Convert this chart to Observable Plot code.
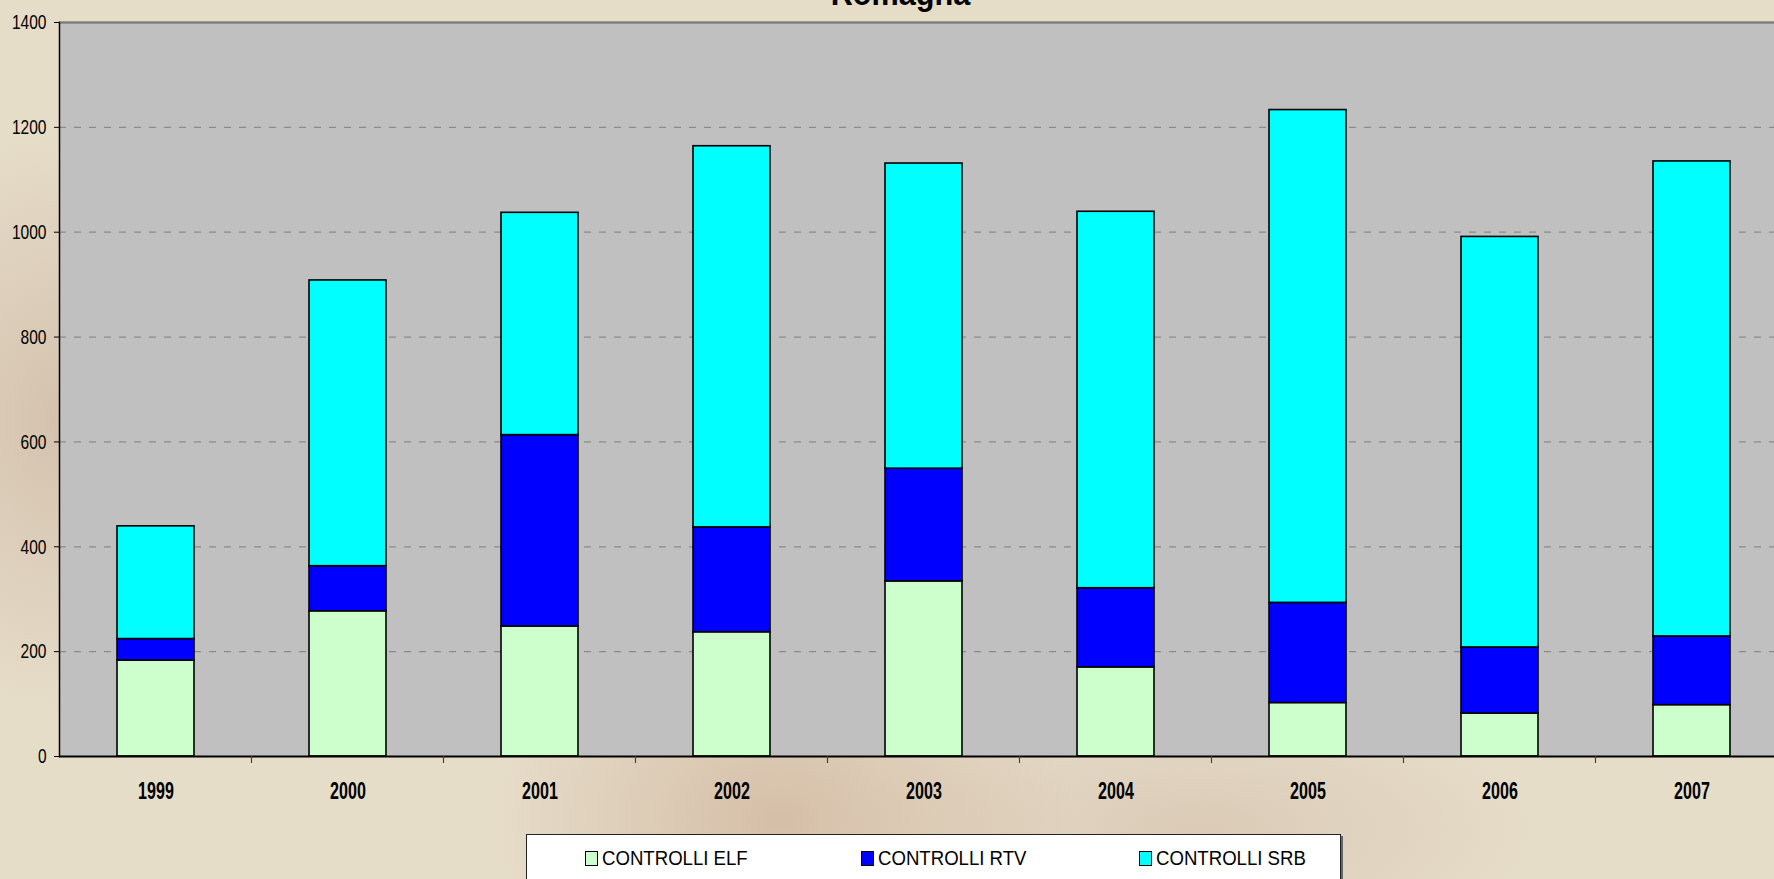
<!DOCTYPE html>
<html>
<head>
<meta charset="utf-8">
<script src="https://cdn.jsdelivr.net/npm/d3@7"></script>
<script src="https://cdn.jsdelivr.net/npm/@observablehq/plot@0.6"></script>
<style>
  html, body { margin: 0; padding: 0; width: 1774px; height: 879px; overflow: hidden; }
  body {
    position: relative;
    background:
      radial-gradient(ellipse 420px 300px at 780px 820px, rgba(200,165,140,0.55), rgba(200,165,140,0) 70%),
      radial-gradient(ellipse 300px 420px at 60px 420px, rgba(190,160,140,0.45), rgba(190,160,140,0) 70%),
      radial-gradient(ellipse 500px 200px at 1200px 830px, rgba(205,180,160,0.45), rgba(205,180,160,0) 70%),
      #e6ddc9;
    font-family: "Liberation Sans", Arial, sans-serif;
  }
  #title {
    position: absolute; left: 0; width: 1800px; top: -26px; text-align: center;
    font-weight: bold; font-size: 34px; color: #000;
  }
  #title span { display: inline-block; transform: scaleX(0.9); }
  #chart { position: absolute; left: 0; top: 0; width: 1800px; }
  #chart svg { max-width: none !important; }
  #legend {
    position: absolute; left: 526px; top: 834px; width: 813px; height: 60px;
    background: #fff; border: 1px solid #222; box-shadow: 2px 2px 0 #666;
  }
  .item { position: absolute; top: 12px; font-size: 20px; color: #000; white-space: nowrap; line-height: 22px; }
  .sw { display: inline-block; width: 11px; height: 13px; border: 1px solid #000; margin-right: 4px; vertical-align: -1px; }
  .lbl { display: inline-block; transform: scaleX(0.93); transform-origin: left center; }
</style>
</head>
<body>
<div id="title"><span>Romagna</span></div>
<div id="chart"></div>
<div id="legend"></div>
<script>
const years = ["1999","2000","2001","2002","2003","2004","2005","2006","2007"];
const seriesNames = ["CONTROLLI ELF","CONTROLLI RTV","CONTROLLI SRB"];
const seriesColors = ["#CCFFCC","#0000FF","#00FFFF"];
const elf = [183, 277, 248, 237, 334, 170, 102, 82, 98];
const rtv = [41, 86, 365, 200, 215, 151, 191, 126, 131];
const srb = [215, 545, 424, 727, 582, 718, 940, 783, 906];
const yTicks = [0, 200, 400, 600, 800, 1000, 1200, 1400];
const gridTicks = [200, 400, 600, 800, 1000, 1200];

const values = [elf, rtv, srb];
const data = years.flatMap((y, i) => seriesNames.map((s, k) => ({year: y, series: s, value: values[k][i]})));

const boundaryTicks = (index, scales, vals, dims, context) => {
  const x = scales.x, y = scales.y;
  const step = x(years[1]) - x(years[0]);
  const bw = x.bandwidth ? x.bandwidth() : 0;
  const g = d3.create("svg:g");
  const y0 = y(0);
  years.forEach(yr => {
    const bx = x(yr) + bw / 2 + step / 2;
    g.append("line").attr("x1", bx).attr("x2", bx).attr("y1", y0).attr("y2", y0 + 7)
      .attr("stroke", "#444").attr("stroke-width", 1.2);
  });
  return g.node();
};

const chart = Plot.plot({
  width: 1788,
  height: 820,
  marginTop: 22,
  marginLeft: 59,
  marginRight: 0,
  marginBottom: 64,
  style: {background: "transparent", fontFamily: "\"Liberation Sans\", Arial, sans-serif", color: "#000", maxWidth: "none"},
  x: {domain: years, paddingInner: 0.6, paddingOuter: 0.3, align: 0.5},
  y: {domain: [0, 1400]},
  color: {domain: seriesNames, range: seriesColors},
  marks: [
    Plot.frame({fill: "#C0C0C0", stroke: null}),
    Plot.gridY(gridTicks, {stroke: "#8a8a8a", strokeOpacity: 1, strokeWidth: 1.2, strokeDasharray: "7,8"}),
    Plot.ruleY([1400], {stroke: "#808080", strokeWidth: 2.5}),
    Plot.barY(data, {x: "year", y: "value", fill: "series", stroke: "#000", strokeWidth: 1.6, order: seriesNames}),
    Plot.frame({anchor: "left", stroke: "#000", strokeWidth: 1.5}),
    Plot.ruleY([0], {stroke: "#000", strokeWidth: 2}),
    Plot.axisY(yTicks, {tickSize: 5, tickPadding: 8, fontSize: 21, label: null, stroke: "#000", tickFormat: d => String(d)}),
    Plot.axisX({tickSize: 0, tickPadding: 26, fontSize: 23, fontWeight: "bold", label: null}),
    boundaryTicks
  ]
});
document.getElementById("chart").appendChild(chart);

// condense axis labels horizontally (the reference uses a narrow face)
chart.querySelectorAll("g[aria-label='y-axis tick label'] text").forEach(t => {
  t.setAttribute("textLength", (t.getComputedTextLength() * 0.74).toFixed(1));
  t.setAttribute("lengthAdjust", "spacingAndGlyphs");
});
chart.querySelectorAll("g[aria-label='x-axis tick label'] text").forEach(t => {
  t.setAttribute("textLength", (t.getComputedTextLength() * 0.7).toFixed(1));
  t.setAttribute("lengthAdjust", "spacingAndGlyphs");
});

const legend = document.getElementById("legend");
const legendX = [58, 334, 612];
seriesNames.forEach((s, i) => {
  const it = document.createElement("div");
  it.className = "item";
  it.style.left = legendX[i] + "px";
  const sw = document.createElement("span");
  sw.className = "sw";
  sw.style.background = seriesColors[i];
  it.appendChild(sw);
  const lb = document.createElement("span");
  lb.className = "lbl";
  lb.textContent = s;
  it.appendChild(lb);
  legend.appendChild(it);
});
</script>
</body>
</html>
